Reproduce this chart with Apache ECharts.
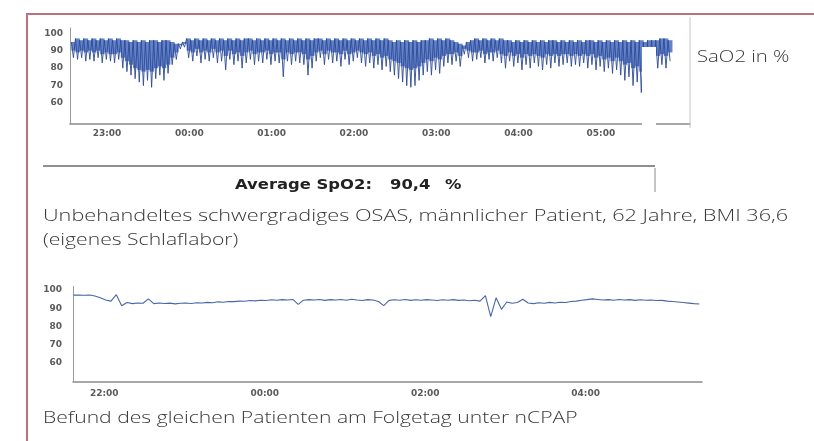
<!DOCTYPE html>
<html><head><meta charset="utf-8">
<script src="https://cdn.jsdelivr.net/npm/echarts@6/dist/echarts.min.js"></script>
<style>html,body{margin:0;padding:0;background:#fff}#c{width:814px;height:441px}</style>
</head><body><div id="c"></div>
<script>
// ---- Data (x in minutes after 21:00) ----
// Top chart: untreated night, 3-minute bins of SpO2 (%): upper edge, lower edge of the dense band, lowest spike
const topStartMin = 94;
const topStepMin = 3;
const topHigh = [
 95,97,96,97,96,97,96,97,96,97,
 96,97,96,96,95,96,95,96,95,96,
 96,95,96,96,95,94,94,95,97,96,
 97,96,97,96,97,96,97,96,97,96,
 97,96,97,97,96,97,96,97,96,97,
 96,97,96,97,96,97,96,97,96,97,
 97,96,97,96,97,96,97,96,97,96,
 97,96,97,96,97,96,97,96,95,96,
 95,96,95,96,95,96,96,97,96,97,
 96,97,96,95,94,93,95,96,97,96,
 97,96,97,96,97,96,96,95,96,95,
 96,95,96,95,96,95,96,96,95,96,
 95,96,95,96,95,96,96,95,96,95,
 96,95,96,95,96,95,96,95,96,95,
 96,96,96,97,97,96];
const topCore = [
 90,89,90,89,90,89,90,88,89,88,
 88,89,86,84,82,80,79,78,79,78,
 80,81,80,82,86,89,93,94,90,89,
 91,89,90,89,91,89,90,87,90,88,
 89,87,89,90,88,89,89,90,88,89,
 89,85,89,88,89,89,88,85,87,89,
 90,88,90,89,89,88,90,88,89,90,
 89,88,89,87,88,86,87,85,84,83,
 81,80,79,80,81,83,85,84,86,85,
 87,88,88,89,87,91,90,89,89,90,
 88,89,89,90,88,87,89,87,88,86,
 88,87,88,87,86,88,87,88,87,88,
 88,87,88,87,88,87,88,86,87,85,
 86,84,86,84,82,83,80,81,78,80,
 82,85,87,88,87,89];
const topLow = [
 86,85,86,84,85,84,86,83,85,84,
 83,85,80,78,76,74,72,70,73,69,
 74,76,73,77,82,85,91,92,86,84,
 87,83,85,84,86,83,84,79,85,82,
 84,80,83,85,82,84,83,85,82,84,
 83,75,84,82,84,83,82,76,80,84,
 86,82,85,83,84,81,85,82,84,86,
 83,81,83,80,82,79,81,78,76,74,
 72,70,69,70,73,76,78,76,79,77,
 81,83,82,84,81,88,86,84,85,86,
 83,85,84,86,83,80,84,81,83,79,
 82,80,83,81,79,82,80,83,81,82,
 83,81,82,81,83,80,82,79,81,78,
 80,77,79,76,73,75,70,72,66,70,
 74,78,80,82,80,84];
const topTickMinutes = [120,180,240,300,360,420,480];
const topTickLabels = ['23:00','00:00','01:00','02:00','03:00','04:00','05:00'];
const yTicks = [60,70,80,90,100];

// Bottom chart: same patient under nCPAP, 4-minute samples
const botStartMin = 37;
const botStepMin = 4;
const botValues = [
 97.3,97.3,97.2,97.3,96.8,95.8,94.6,94.0,97.5,91.5,
 93.2,92.6,93.0,92.8,95.2,92.6,93.0,92.7,92.9,92.5,
 92.8,93.0,92.7,93.1,93.0,93.3,93.1,93.6,93.4,93.8,
 93.7,94.0,93.9,94.3,94.1,94.5,94.3,94.7,94.5,94.8,
 94.6,94.9,92.2,94.5,94.8,94.6,94.9,94.4,94.8,94.6,
 94.9,94.5,95.0,94.6,94.3,94.8,94.6,93.8,91.5,94.4,
 94.7,94.5,94.9,94.4,94.7,94.5,94.8,94.6,94.3,94.7,
 94.5,94.8,94.4,94.6,94.2,94.5,94.0,97.0,85.5,95.8,
 89.5,93.5,92.8,93.2,95.0,93.0,92.6,93.1,92.8,93.3,
 93.0,93.4,93.2,93.8,94.0,94.5,94.8,95.2,94.9,94.6,
 94.8,94.5,94.9,94.6,94.8,94.4,94.7,94.5,94.6,94.3,
 94.4,94.0,93.8,93.5,93.2,92.9,92.6,92.4];
const botTickMinutes = [60,180,300,420];
const botTickLabels = ['22:00','00:00','02:00','04:00'];

const averageLabel = 'Average SpO2:';
const averageValue = '90,4';
const averageUnit = '%';

// ---- Build series data ----
const topZig = [];
topHigh.forEach((h, i) => {
  const m = topStartMin + i * topStepMin;
  topZig.push([m, h]);
  topZig.push([m + topStepMin / 2, topLow[i]]);
});
const topBand = topHigh.map((h, i) => [topStartMin + i * topStepMin, h, topCore[i]]);
const botData = botValues.map((v, i) => [botStartMin + i * botStepMin, v]);

function lbl(ticks, labels) {
  return v => { const k = ticks.indexOf(v); return k >= 0 ? labels[k] : ''; };
}
const tickFont = {fontSize: 9, fontWeight: 'bold', color: '#5a5a5a', fontFamily: 'DejaVu Sans'};
const capFont = '300 16px "Open Sans"';
const capScale = 1.32;
const boldFont = 'bold 14px "DejaVu Sans"';
const boldScale = 1.17;

function txt(x, y, text, font, fill, sx) {
  return {type: 'text', x: x, y: y, scaleX: sx, z: 10,
    style: {text: text, font: font, fill: fill, textVerticalAlign: 'middle'}};
}

const chart = echarts.init(document.getElementById('c'), null, {renderer: 'canvas'});
chart.setOption({
  animation: false,
  backgroundColor: '#fff',
  grid: [
    {left: 70, right: 124, top: 28, bottom: 317},
    {left: 73, right: 112, top: 286.5, bottom: 59.6}
  ],
  xAxis: [
    {type: 'value', gridIndex: 0, min: 93, max: 545,
     axisLine: {lineStyle: {color: '#8a8a8a', width: 1.5}}, axisTick: {show: false},
     splitLine: {show: false},
     axisLabel: Object.assign({customValues: topTickMinutes, margin: 5, formatter: lbl(topTickMinutes, topTickLabels)}, tickFont)},
    {type: 'value', gridIndex: 1, min: 36.6, max: 507,
     axisLine: {lineStyle: {color: '#8a8a8a', width: 1.5}}, axisTick: {show: false},
     splitLine: {show: false},
     axisLabel: Object.assign({customValues: botTickMinutes, margin: 8, formatter: lbl(botTickMinutes, botTickLabels)}, tickFont)}
  ],
  yAxis: [
    {type: 'value', gridIndex: 0, min: 48, max: 103,
     axisLine: {show: true, lineStyle: {color: '#9a9a9a', width: 1}}, axisTick: {show: false},
     splitLine: {show: false},
     axisLabel: Object.assign({customValues: yTicks, margin: 7}, tickFont)},
    {type: 'value', gridIndex: 1, min: 50, max: 102,
     axisLine: {show: true, lineStyle: {color: '#9a9a9a', width: 1}}, axisTick: {show: false},
     splitLine: {show: false},
     axisLabel: Object.assign({customValues: yTicks, margin: 11}, tickFont)}
  ],
  series: [
    {type: 'custom', xAxisIndex: 0, yAxisIndex: 0, data: topBand, clip: true, z: 2,
     encode: {x: 0, y: [1, 2]},
     renderItem: function (params, api) {
       const p0 = api.coord([api.value(0), api.value(1)]);
       const p1 = api.coord([api.value(0) + topStepMin, api.value(2)]);
       return {type: 'rect', shape: {x: p0[0], y: p0[1], width: p1[0] - p0[0] + 0.3, height: p1[1] - p0[1]},
               style: {fill: '#5274c2', opacity: 0.9}};
     }},
    {type: 'line', xAxisIndex: 0, yAxisIndex: 0, data: topZig, showSymbol: false, symbol: 'none',
     lineStyle: {color: '#2c4a96', width: 0.9}, z: 3},
    {type: 'line', xAxisIndex: 1, yAxisIndex: 1, data: botData, showSymbol: false, symbol: 'none',
     lineStyle: {color: '#4a66a6', width: 1.1}, z: 3}
  ],
  graphic: [
    {type: 'polyline', shape: {points: [[27, 441], [27, 14], [814, 14]]}, style: {stroke: '#b9707f', lineWidth: 2, fill: null}, z: 10},
    {type: 'line', shape: {x1: 690, y1: 17, x2: 690, y2: 128}, style: {stroke: '#c4c4c4', lineWidth: 1}, z: 10},
    {type: 'rect', shape: {x: 642, y: 47, width: 14, height: 96}, style: {fill: '#fff'}, z: 20},
    {type: 'line', shape: {x1: 43, y1: 166, x2: 655, y2: 166}, style: {stroke: '#6a6a6a', lineWidth: 1.5}, z: 10},
    {type: 'line', shape: {x1: 655, y1: 168, x2: 655, y2: 192}, style: {stroke: '#8a8a8a', lineWidth: 1}, z: 10},
    txt(235, 185, averageLabel, boldFont, '#222', boldScale),
    txt(390, 185, averageValue, boldFont, '#222', boldScale),
    txt(445, 185, averageUnit, boldFont, '#222', boldScale),
    txt(697, 57, 'SaO2 in %', capFont, '#383838', 1.27),
    txt(43, 216, 'Unbehandeltes schwergradiges OSAS, männlicher Patient, 62 Jahre, BMI 36,6', capFont, '#383838', 1.355),
    txt(43, 240, '(eigenes Schlaflabor)', capFont, '#383838', capScale),
    txt(43, 418, 'Befund des gleichen Patienten am Folgetag unter nCPAP', capFont, '#383838', capScale)
  ]
});
</script></body></html>
